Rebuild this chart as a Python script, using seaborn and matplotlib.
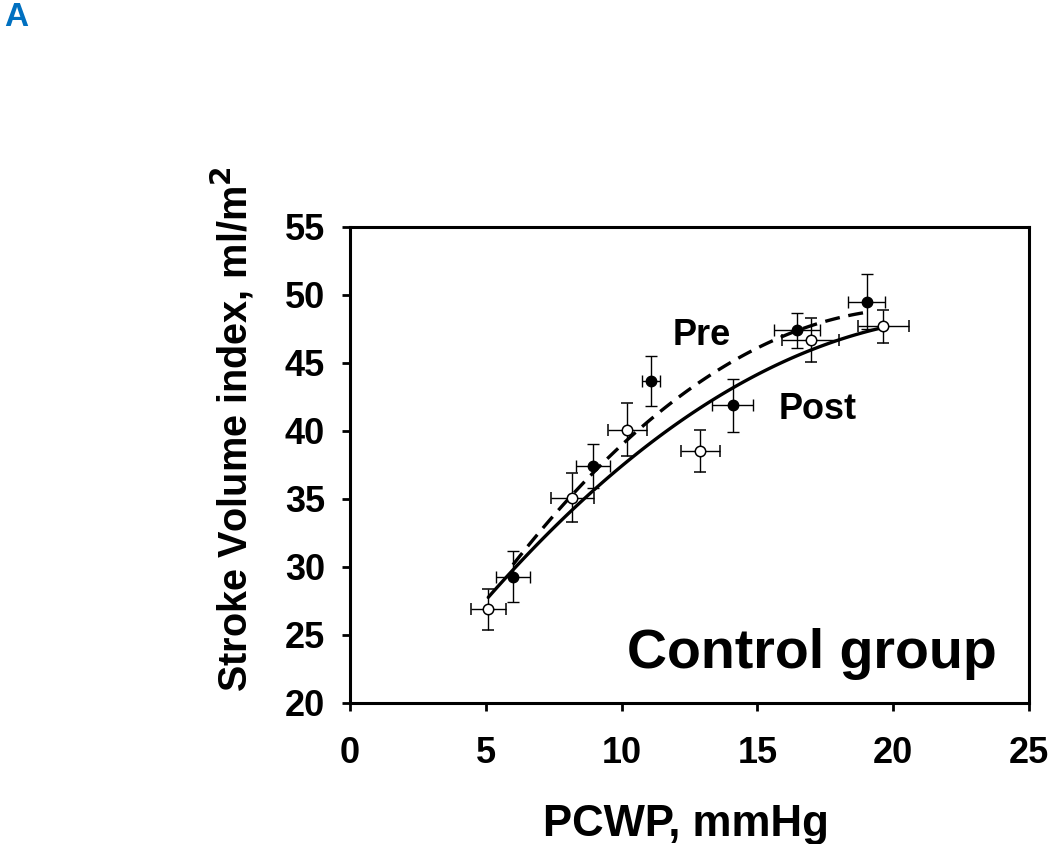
import numpy as np
import pandas as pd
import matplotlib
matplotlib.use("Agg")
import matplotlib.pyplot as plt
import seaborn as sns

# Pre (filled circles)
pre_x = [6.0, 8.96, 11.08, 14.09, 16.45, 19.02]
pre_y = [29.3, 37.4, 43.7, 41.9, 47.4, 49.5]
pre_xerr = [0.61, 0.63, 0.34, 0.75, 0.84, 0.69]
pre_yerr = [1.86, 1.62, 1.83, 1.96, 1.27, 2.01]

# Post (open circles)
post_x = [5.09, 8.19, 10.21, 12.89, 16.96, 19.64]
post_y = [26.9, 35.1, 40.1, 38.5, 46.7, 47.7]
post_xerr = [0.65, 0.80, 0.72, 0.72, 1.04, 0.95]
post_yerr = [1.51, 1.78, 1.93, 1.54, 1.62, 1.23]

xticks = [0, 5, 10, 15, 20, 25]
yticks = [20, 25, 30, 35, 40, 45, 50, 55]

sns.set_style("white")
plt.rcParams['font.family'] = ['Liberation Sans', 'DejaVu Sans']
plt.rcParams['text.color'] = 'black'
plt.rcParams['axes.labelcolor'] = 'black'
plt.rcParams['xtick.color'] = 'black'
plt.rcParams['ytick.color'] = 'black'

pre = pd.DataFrame({"x": pre_x, "y": pre_y})
post = pd.DataFrame({"x": post_x, "y": post_y})

fig = plt.figure(figsize=(10.5, 8.44), dpi=100)
ax = fig.add_axes([350/1050, 1-703/844, 679/1050, 476/844])

# fitted curves (2nd order polynomial, like the Excel trendline)
sns.regplot(data=pre, x="x", y="y", order=2, ci=None, scatter=False, ax=ax,
            line_kws=dict(color="black", lw=2.4, ls=(0, (4.5, 2.6))))
sns.regplot(data=post, x="x", y="y", order=2, ci=None, scatter=False, ax=ax,
            line_kws=dict(color="black", lw=2.4))

# points with error bars
ax.errorbar(post_x, post_y, xerr=post_xerr, yerr=post_yerr, fmt="o", ms=7.5,
            mfc="white", mec="black", mew=1.1, ecolor="black", elinewidth=1.0,
            capsize=4.5, capthick=1.0, zorder=4)
ax.errorbar(pre_x, pre_y, xerr=pre_xerr, yerr=pre_yerr, fmt="o", ms=7.5,
            mfc="black", mec="black", ecolor="black", elinewidth=1.0,
            capsize=4.5, capthick=1.0, zorder=5)

ax.set_xlim(0, 25)
ax.set_ylim(20, 55)
ax.set_xticks(xticks)
ax.set_yticks(yticks)
ax.tick_params(direction="out", length=6, width=2, labelsize=26,
               left=True, bottom=True)
ax.tick_params(axis="x", pad=18)
ax.tick_params(axis="y", pad=12)
for lab in ax.get_xticklabels() + ax.get_yticklabels():
    lab.set_fontweight("bold")
for s in ax.spines.values():
    s.set_visible(True)
    s.set_color("black")
    s.set_linewidth(2.2)

ax.set_xlabel("PCWP, mmHg", fontsize=31.5, fontweight="bold")
ax.xaxis.set_label_coords(0.495, -0.212)
ax.set_ylabel("Stroke Volume index, ml/m$\\mathbf{^2}$", fontsize=28.5,
              fontweight="bold")
ax.yaxis.set_label_coords(-0.139, 0.575)

ax.text(12.95, 47.0, "Pre", fontsize=26, fontweight="bold", ha="center", va="center")
ax.text(17.22, 41.6, "Post", fontsize=26, fontweight="bold", ha="center", va="center")
ax.text(23.8, 23.6, "Control group", fontsize=40, fontweight="bold",
        ha="right", va="center")

fig.text(16/1050, 1-18/844, "A", color="#0070C0", fontsize=24,
         fontweight="bold", ha="center", va="center")

fig.savefig("out.png", dpi=100)
